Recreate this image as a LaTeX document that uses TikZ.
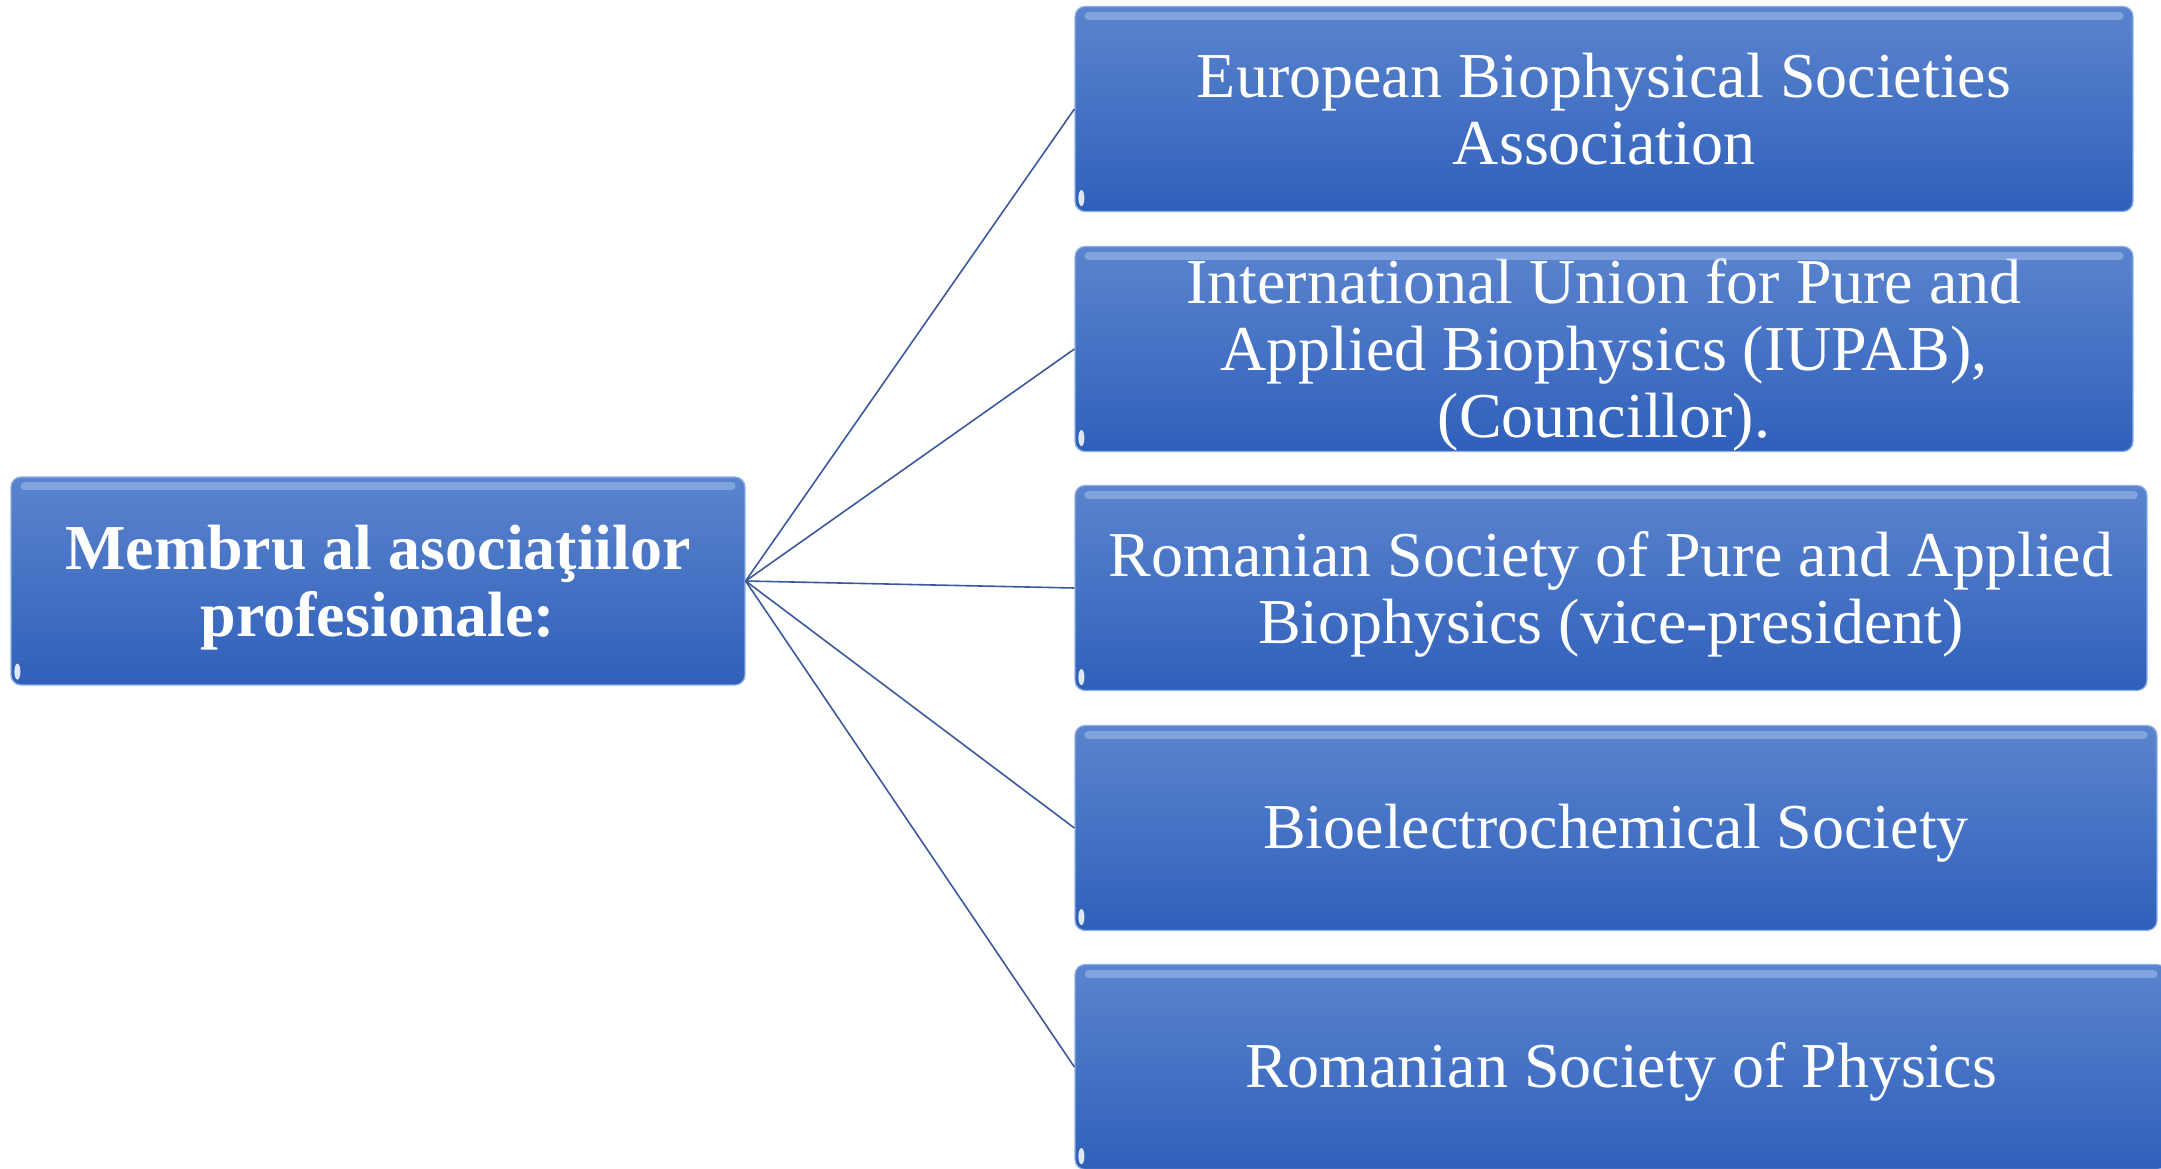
\documentclass[tikz,border=0pt]{standalone}
\usepackage{fontspec}
\setmainfont{Liberation Serif}
\definecolor{topblue}{HTML}{5B84CE}
\definecolor{botblue}{HTML}{2F60BA}
\definecolor{boxedge}{HTML}{8FB0E6}
\definecolor{linkblue}{HTML}{3B5A9C}
\definecolor{hilite}{HTML}{A9C6F2}
\newcommand{\lowr}{\rule{0pt}{57pt}}
\tikzset{
  boxstyle/.style={rectangle, rounded corners=10pt, draw=boxedge, line width=1.2pt,
    top color=topblue, bottom color=botblue, text=white, align=center, inner sep=0pt,
    font=\fontsize{64}{67}\selectfont},
  link/.style={draw=linkblue, line width=1.6pt},
  hiline/.style={draw=hilite, line width=8pt, line cap=round, opacity=0.5},
  glint/.style={fill=white, opacity=0.85}
}
\newcommand{\boxdeco}[1]{%
  \draw[hiline] ([xshift=14pt,yshift=-10pt]#1.north west) -- ([xshift=-14pt,yshift=-10pt]#1.north east);
  \fill[glint] ([xshift=7pt,yshift=14pt]#1.south west) ellipse [x radius=3pt, y radius=8pt];
}
\begin{document}
\begin{tikzpicture}[x=1pt,y=-1pt]
\useasboundingbox (0,0) rectangle (2161,1169);
\fill[white] (0,0) rectangle (2161,1169);
\node[boxstyle, minimum width=734pt, minimum height=208pt] (root) at (378,581)
  {\lowr\textbf{Membru al asociaţiilor}\\\textbf{profesionale:}};
\node[boxstyle, minimum width=1058pt, minimum height=205pt] (b1) at (1604,109)
  {European Biophysical Societies\\Association};
\node[boxstyle, minimum width=1058pt, minimum height=205pt] (b2) at (1604,349)
  {\lowr International Union for Pure and\\Applied Biophysics (IUPAB),\\(Councillor).};
\node[boxstyle, minimum width=1072pt, minimum height=205pt] (b3) at (1611,588)
  {\lowr Romanian Society of Pure and Applied\\Biophysics (vice-president)};
\node[boxstyle, minimum width=1082pt, minimum height=205pt] (b4) at (1616,828)
  {\rule{0pt}{54pt}Bioelectrochemical Society};
\node[boxstyle, minimum width=1092pt, minimum height=205pt] (b5) at (1621,1067)
  {\rule{0pt}{54pt}Romanian Society of Physics};
\foreach \n in {root,b1,b2,b3,b4,b5}{\boxdeco{\n}}
\foreach \n in {b1,b2,b3,b4,b5}{\draw[link] (root.east) -- (\n.west);}
\end{tikzpicture}
\end{document}
